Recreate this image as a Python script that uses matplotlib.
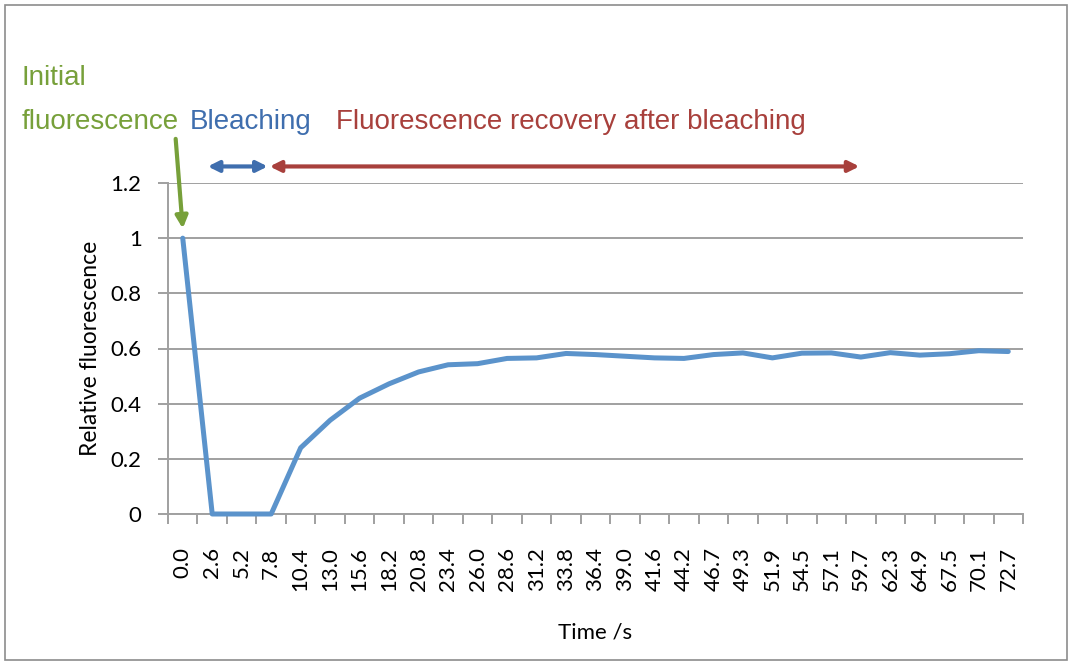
import matplotlib.pyplot as plt
from matplotlib.patches import Rectangle

# data
times = ["0.0", "2.6", "5.2", "7.8", "10.4", "13.0", "15.6", "18.2", "20.8", "23.4",
         "26.0", "28.6", "31.2", "33.8", "36.4", "39.0", "41.6", "44.2", "46.7", "49.3",
         "51.9", "54.5", "57.1", "59.7", "62.3", "64.9", "67.5", "70.1", "72.7"]
rel_fluor = [1.0, 0.0, 0.0, 0.0, 0.24, 0.34, 0.42, 0.472, 0.515, 0.541,
             0.545, 0.564, 0.566, 0.582, 0.578, 0.572, 0.566, 0.564, 0.578, 0.584,
             0.566, 0.583, 0.584, 0.569, 0.585, 0.576, 0.581, 0.592, 0.589]
y_ticks = [0, 0.2, 0.4, 0.6, 0.8, 1.0, 1.2]
y_tick_labels = ["0", "0.2", "0.4", "0.6", "0.8", "1", "1.2"]

green = "#77A03A"
blue = "#3F6EAE"
red = "#A8403C"
line_col = "#5B93CB"
grid_col = "#A0A0A0"
tick_font = ["Lato", "DejaVu Sans"]
head_font = ["Liberation Sans", "DejaVu Sans"]

fig = plt.figure(figsize=(10.7, 6.64), dpi=100)
ax = fig.add_axes([168 / 1070, 1 - 514 / 664, (1023 - 168) / 1070, (514 - 183) / 664])

x = list(range(len(times)))
ax.plot(x, rel_fluor, color=line_col, lw=3.6, solid_capstyle="round", zorder=3, clip_on=False)

ax.set_xlim(-0.5, len(times) - 0.5)
ax.set_ylim(0, 1.2)
ax.set_yticks(y_ticks)
ax.set_yticklabels(y_tick_labels, fontsize=16, family=tick_font)
ax.yaxis.grid(True, color=grid_col, lw=1.4)
ax.set_axisbelow(True)

# ticks on category boundaries, labels at centres
ax.set_xticks([i - 0.5 for i in range(len(times) + 1)])
ax.set_xticklabels([])
ax.set_xticks(x, minor=True)
ax.set_xticklabels(times, minor=True, rotation=90, fontsize=16, family=tick_font)
ax.tick_params(axis="x", which="major", length=7, color=grid_col, width=1.4)
ax.tick_params(axis="x", which="minor", length=0, pad=24)
ax.tick_params(axis="y", length=7, color=grid_col, width=1.4, pad=12)

for s in ["top", "right"]:
    ax.spines[s].set_visible(False)
for s in ["left", "bottom"]:
    ax.spines[s].set_color(grid_col)
    ax.spines[s].set_linewidth(1.4)

ax.set_ylabel("Relative fluorescence", fontsize=16.5, family=tick_font, labelpad=7)
ax.set_xlabel("Time /s", fontsize=16, family=tick_font, labelpad=22)

# annotations
fig.text(22 / 1070, 1 - 85 / 664, "Initial", color=green, fontsize=20, family=head_font, va="baseline")
fig.text(22 / 1070, 1 - 129 / 664, "fluorescence", color=green, fontsize=20, family=head_font, va="baseline")
fig.text(190 / 1070, 1 - 129 / 664, "Bleaching", color=blue, fontsize=20, family=head_font, va="baseline")
fig.text(336 / 1070, 1 - 129 / 664, "Fluorescence recovery after bleaching", color=red,
         fontsize=20, family=head_font, va="baseline")

ax.annotate("", xy=(0.85, 1.26), xytext=(2.88, 1.26), annotation_clip=False,
            arrowprops=dict(arrowstyle="<|-|>", color=blue, lw=3, mutation_scale=16, shrinkA=0, shrinkB=0))
ax.annotate("", xy=(2.95, 1.26), xytext=(22.95, 1.26), annotation_clip=False,
            arrowprops=dict(arrowstyle="<|-|>", color=red, lw=3, mutation_scale=16, shrinkA=0, shrinkB=0))
ax.annotate("", xy=(0, 1.035), xytext=(-0.24, 1.36), annotation_clip=False,
            arrowprops=dict(arrowstyle="-|>", color=green, lw=3, mutation_scale=18, shrinkA=0, shrinkB=0))

# chart border
fig.patches.append(Rectangle((5 / 1070, 4 / 664), 1062 / 1070, 655 / 664, transform=fig.transFigure,
                             fill=False, edgecolor="#8C8C8C", lw=1.2))

fig.savefig("out.png", dpi=100)
